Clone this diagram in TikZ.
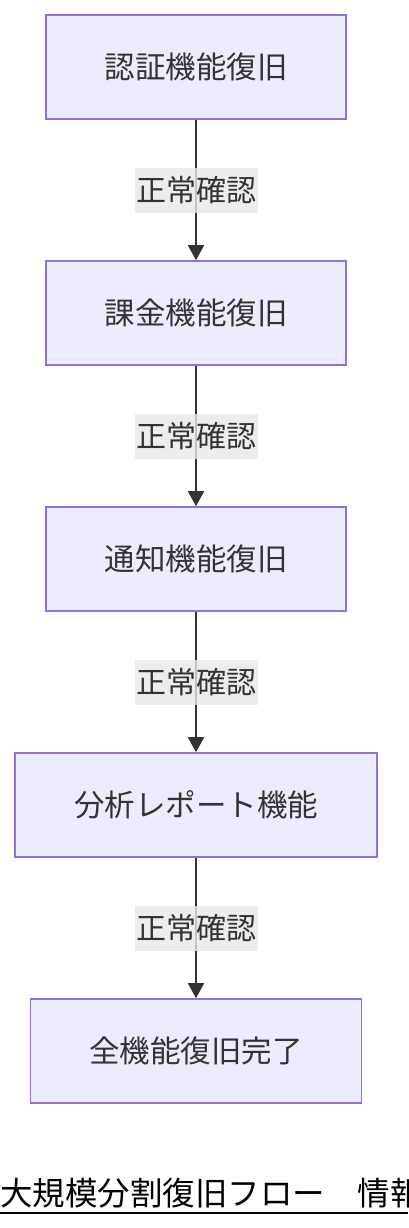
\documentclass[tikz,border=0pt]{standalone}
\usepackage{fontspec}
\setmainfont{Noto Sans CJK JP}
\usetikzlibrary{arrows.meta}
\definecolor{boxfill}{HTML}{ECECFF}
\definecolor{boxline}{HTML}{9370DB}
\definecolor{ink}{HTML}{333333}
\definecolor{lblbg}{HTML}{E8E8E8}
\tikzset{
  flowbox/.style={draw=boxline, fill=boxfill, line width=1.6pt, minimum height=104pt, inner sep=0pt, text=ink, font=\fontsize{30.5}{36}\selectfont},
  flowedge/.style={draw=ink, line width=1.8pt, -{Triangle[length=15pt,width=16pt]}},
  edgelbl/.style={fill=lblbg, fill opacity=0.8, text opacity=1, text=ink, minimum width=123pt, minimum height=45pt, inner sep=0pt, font=\fontsize{30}{36}\selectfont}
}
\begin{document}
\begin{tikzpicture}[x=1pt,y=-1pt]
\useasboundingbox (0,0) rectangle (408,1228);
\clip (0,0) rectangle (408,1228);
\node[flowbox, minimum width=300pt] (a) at (196,67) {認証機能復旧};
\node[flowbox, minimum width=300pt] (b) at (196,313) {課金機能復旧};
\node[flowbox, minimum width=300pt] (c) at (196,559) {通知機能復旧};
\node[flowbox, minimum width=362pt] (d) at (196,805) {分析レポート機能};
\node[flowbox, minimum width=331pt] (e) at (196,1051) {全機能復旧完了};
\draw[flowedge] (a) -- node[edgelbl] (la) {正常確認} (b);
\draw[flowedge] (b) -- node[edgelbl] (lb) {正常確認} (c);
\draw[flowedge] (c) -- node[edgelbl] (lc) {正常確認} (d);
\draw[flowedge] (d) -- node[edgelbl] (ld) {正常確認} (e);
\node[anchor=base west, inner sep=0pt, font=\fontsize{32.5}{38}\selectfont, text=black] (title) at (0,1205) {大規模分割復旧フロー　情報};
\coordinate (ul1) at (0,1213);
\coordinate (ul2) at (408,1213);
\draw[black, line width=2pt] (ul1) -- (ul2);
\end{tikzpicture}
\end{document}
